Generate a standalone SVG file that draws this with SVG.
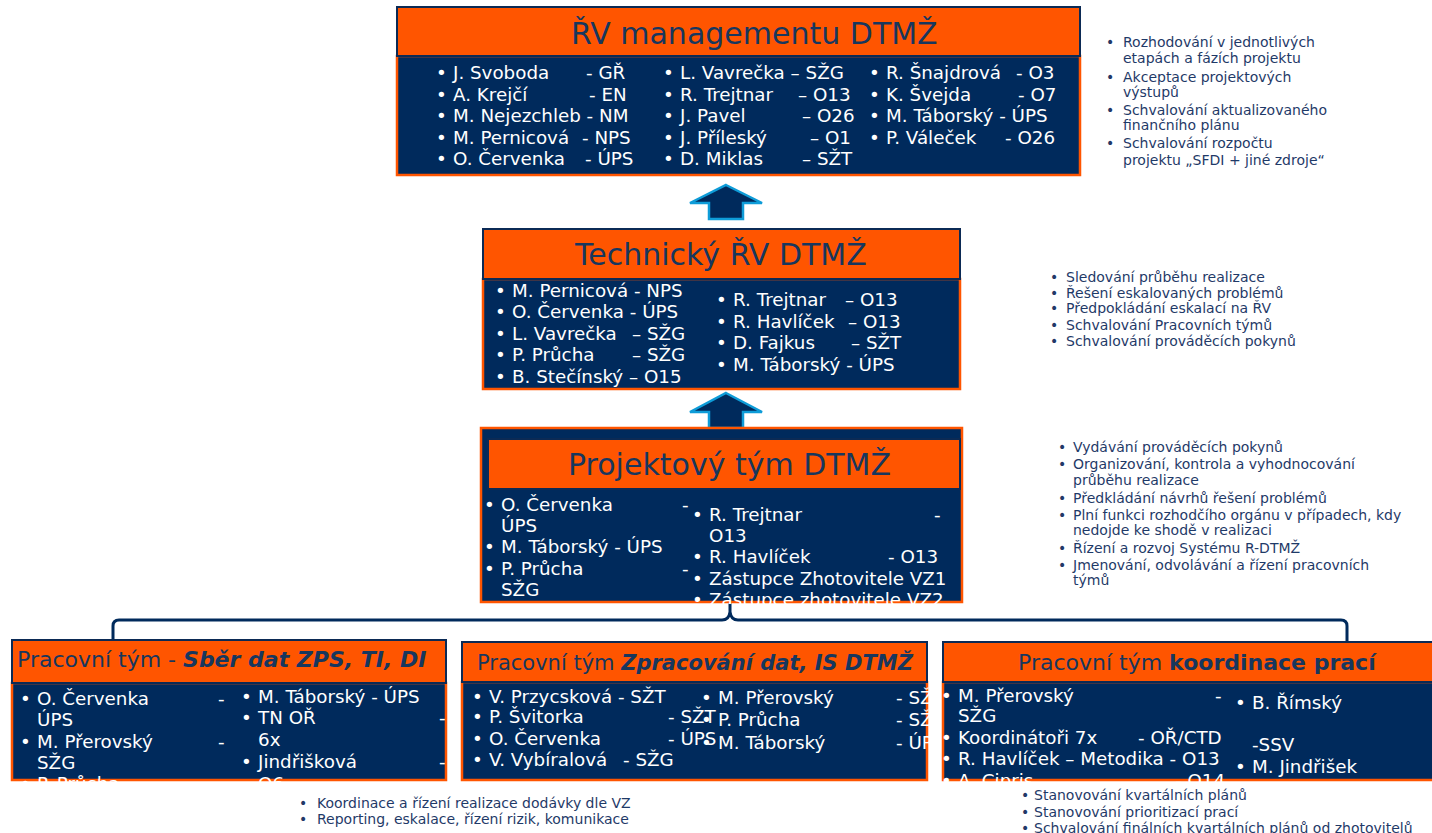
<svg xmlns="http://www.w3.org/2000/svg" width="1432" height="833" viewBox="0 0 1432 833">
<style>
text{font-family:"DejaVu Sans",Verdana,sans-serif}
.hdr{fill:#FF5500;stroke:#0B2A55;stroke-width:2}
.bd{fill:#002A5C;stroke:#FF5500;stroke-width:2.5}
.b{font-size:18.3px;fill:#FFFFFF}
.ttl{font-size:30px;fill:#17375E}
.tt{font-size:22px;fill:#17375E}
.bi{font-weight:bold;font-style:italic}
.bo{font-weight:bold}
.l{font-size:14px;fill:#1F3A68}
.arr{fill:#002A5C;stroke:#0E9CD8;stroke-width:2.5}
.con{fill:none;stroke:#002A5C;stroke-width:3}
</style>
<defs>
<clipPath id="cpP"><rect x="481" y="428" width="482" height="176"/></clipPath>
<clipPath id="cp1"><rect x="12" y="683" width="435" height="100"/></clipPath>
<clipPath id="cp2"><rect x="440" y="682" width="520" height="101"/></clipPath>
<clipPath id="cp3"><rect x="940" y="682" width="492" height="101"/></clipPath>
</defs>
<rect width="1432" height="833" fill="#FFFFFF"/>

<g id="connectors">
<polygon class="arr" points="726,185 762,203 743,203 743,219 709,219 709,203 690,203"/>
<polygon class="arr" points="726,393 762,412 743,412 743,428 709,428 709,412 690,412"/>
<path class="con" d="M113,640 V626 Q113,620 119,620 H722 Q729,620 730,612 V603 M730,612 Q731,620 738,620 H1341 Q1347,620 1347,626 V641"/>
</g>

<g id="rv-management">
<rect class="bd" x="397" y="56" width="683" height="119"/>
<rect class="hdr" x="397" y="7" width="683" height="49"/>
<text class="ttl" x="571" y="44">ŘV managementu DTMŽ</text>
<g class="b">
<text x="436" y="79">•<tspan x="453">J. Svoboda</tspan><tspan x="586">- GŘ</tspan></text>
<text x="436" y="100.5">•<tspan x="453">A. Krejčí</tspan><tspan x="589">- EN</tspan></text>
<text x="436" y="122">•<tspan x="453">M. Nejezchleb - NM</tspan></text>
<text x="436" y="143.5">•<tspan x="453">M. Pernicová</tspan><tspan x="582">- NPS</tspan></text>
<text x="436" y="165">•<tspan x="453">O. Červenka</tspan><tspan x="585">- ÚPS</tspan></text>
<text x="663" y="79">•<tspan x="680">L. Vavrečka – SŽG</tspan></text>
<text x="663" y="100.5">•<tspan x="680">R. Trejtnar</tspan><tspan x="798">– O13</tspan></text>
<text x="663" y="122">•<tspan x="680">J. Pavel</tspan><tspan x="802">– O26</tspan></text>
<text x="663" y="143.5">•<tspan x="680">J. Příleský</tspan><tspan x="810">– O1</tspan></text>
<text x="663" y="165">•<tspan x="680">D. Miklas</tspan><tspan x="802">– SŽT</tspan></text>
<text x="869" y="79">•<tspan x="886">R. Šnajdrová</tspan><tspan x="1016">- O3</tspan></text>
<text x="869" y="100.5">•<tspan x="886">K. Švejda</tspan><tspan x="1018">- O7</tspan></text>
<text x="869" y="122">•<tspan x="886">M. Táborský - ÚPS</tspan></text>
<text x="869" y="143.5">•<tspan x="886">P. Váleček</tspan><tspan x="1005">- O26</tspan></text>
</g>
</g>

<g id="list-rv">
<g class="l">
<text x="1106" y="47">•<tspan x="1123">Rozhodování v jednotlivých</tspan></text>
<text x="1123" y="63">etapách a fázích projektu</text>
<text x="1106" y="82">•<tspan x="1123">Akceptace projektových</tspan></text>
<text x="1123" y="97">výstupů</text>
<text x="1106" y="115">•<tspan x="1123">Schvalování aktualizovaného</tspan></text>
<text x="1123" y="130">finančního plánu</text>
<text x="1106" y="148">•<tspan x="1123">Schvalování rozpočtu</tspan></text>
<text x="1123" y="165">projektu „SFDI + jiné zdroje“</text>
</g>
</g>

<g id="technicky-rv">
<rect class="bd" x="483" y="279" width="477" height="110"/>
<rect class="hdr" x="483" y="229" width="477" height="50"/>
<text class="ttl" x="575" y="265">Technický ŘV DTMŽ</text>
<g class="b">
<text x="495" y="296.5">•<tspan x="512">M. Pernicová - NPS</tspan></text>
<text x="495" y="318">•<tspan x="512">O. Červenka - ÚPS</tspan></text>
<text x="495" y="339.5">•<tspan x="512">L. Vavrečka</tspan><tspan x="632">– SŽG</tspan></text>
<text x="495" y="361">•<tspan x="512">P. Průcha</tspan><tspan x="632">– SŽG</tspan></text>
<text x="495" y="383">•<tspan x="512">B. Stečínský – O15</tspan></text>
<text x="716" y="306">•<tspan x="733">R. Trejtnar</tspan><tspan x="845">– O13</tspan></text>
<text x="716" y="327.5">•<tspan x="733">R. Havlíček</tspan><tspan x="848">– O13</tspan></text>
<text x="716" y="349">•<tspan x="733">D. Fajkus</tspan><tspan x="851">– SŽT</tspan></text>
<text x="716" y="370.5">•<tspan x="733">M. Táborský - ÚPS</tspan></text>
</g>
</g>

<g id="list-technicky">
<g class="l">
<text x="1050" y="282">•<tspan x="1066">Sledování průběhu realizace</tspan></text>
<text x="1050" y="298">•<tspan x="1066">Řešení eskalovaných problémů</tspan></text>
<text x="1050" y="313">•<tspan x="1066">Předpokládání eskalací na ŘV</tspan></text>
<text x="1050" y="330">•<tspan x="1066">Schvalování Pracovních týmů</tspan></text>
<text x="1050" y="346">•<tspan x="1066">Schvalování prováděcích pokynů</tspan></text>
</g>
</g>

<g id="projektovy-tym">
<rect class="bd" x="481" y="428" width="481" height="174"/>
<rect class="hdr" x="488" y="439" width="472" height="50"/>
<text class="ttl" x="568" y="475">Projektový tým DTMŽ</text>
<g class="b" clip-path="url(#cpP)">
<text x="484" y="510.5">•<tspan x="501">O. Červenka</tspan><tspan x="682">-</tspan></text>
<text x="501" y="531.5">ÚPS</text>
<text x="484" y="553">•<tspan x="501">M. Táborský - ÚPS</tspan></text>
<text x="484" y="574.5">•<tspan x="501">P. Průcha</tspan><tspan x="682">-</tspan></text>
<text x="501" y="595.5">SŽG</text>
<text x="692" y="520.5">•<tspan x="709">R. Trejtnar</tspan><tspan x="934">-</tspan></text>
<text x="709" y="541.5">O13</text>
<text x="692" y="563">•<tspan x="709">R. Havlíček</tspan><tspan x="888">- O13</tspan></text>
<text x="692" y="584.5">•<tspan x="709">Zástupce Zhotovitele VZ1</tspan></text>
<text x="692" y="606">•<tspan x="709">Zástupce zhotovitele VZ2</tspan></text>
</g>
</g>

<g id="list-projektovy">
<g class="l">
<text x="1058" y="452">•<tspan x="1073">Vydávání prováděcích pokynů</tspan></text>
<text x="1058" y="469">•<tspan x="1073">Organizování, kontrola a vyhodnocování</tspan></text>
<text x="1073" y="485">průběhu realizace</text>
<text x="1058" y="503">•<tspan x="1073">Předkládání návrhů řešení problémů</tspan></text>
<text x="1058" y="520">•<tspan x="1073">Plní funkci rozhodčího orgánu v případech, kdy</tspan></text>
<text x="1073" y="535">nedojde ke shodě v realizaci</text>
<text x="1058" y="553">•<tspan x="1073">Řízení a rozvoj Systému R-DTMŽ</tspan></text>
<text x="1058" y="570">•<tspan x="1073">Jmenování, odvolávání a řízení pracovních</tspan></text>
<text x="1073" y="585">týmů</text>
</g>
</g>

<g id="tym-sber-dat">
<rect class="bd" x="12" y="683" width="434" height="97"/>
<rect class="hdr" x="12" y="640" width="434" height="43"/>
<text class="tt" x="17" y="667">Pracovní tým - <tspan class="bi">Sběr dat ZPS, TI, DI</tspan></text>
<g class="b" clip-path="url(#cp1)">
<text x="20" y="704.5">•<tspan x="37">O. Červenka</tspan><tspan x="218">-</tspan></text>
<text x="37" y="725.5">ÚPS</text>
<text x="20" y="748">•<tspan x="37">M. Přerovský</tspan><tspan x="218">-</tspan></text>
<text x="37" y="769">SŽG</text>
<text x="20" y="790">•<tspan x="37">P. Průcha</tspan></text>
<text x="241" y="702.5">•<tspan x="258">M. Táborský - ÚPS</tspan></text>
<text x="241" y="724">•<tspan x="258">TN OŘ</tspan><tspan x="439">-</tspan></text>
<text x="258" y="745.5">6x</text>
<text x="241" y="768">•<tspan x="258">Jindřišková</tspan><tspan x="439">-</tspan></text>
<text x="258" y="789.5">O6</text>
</g>
</g>

<g id="tym-zpracovani-dat">
<rect class="bd" x="462" y="682" width="465" height="98"/>
<rect class="hdr" x="462" y="642" width="465" height="40"/>
<text class="tt" x="477" y="670" style="font-size:21px">Pracovní tým <tspan class="bi">Zpracování dat, IS DTMŽ</tspan></text>
<g class="b" clip-path="url(#cp2)">
<text x="472" y="702.5">•<tspan x="489">V. Przycsková - SŽT</tspan></text>
<text x="472" y="723">•<tspan x="489">P. Švitorka</tspan><tspan x="668">- SŽT</tspan></text>
<text x="472" y="744.5">•<tspan x="489">O. Červenka</tspan><tspan x="668">- ÚPS</tspan></text>
<text x="472" y="765.5">•<tspan x="489">V. Vybíralová</tspan><tspan x="623">- SŽG</tspan></text>
<text x="701" y="703.5">•<tspan x="718">M. Přerovský</tspan><tspan x="896">- SŽG</tspan></text>
<text x="701" y="725.5">•<tspan x="718">P. Průcha</tspan><tspan x="896">- SŽG</tspan></text>
<text x="701" y="748.5">•<tspan x="718">M. Táborský</tspan><tspan x="896">- ÚPS</tspan></text>
</g>
</g>

<g id="tym-koordinace">
<rect class="bd" x="943" y="682" width="495" height="98"/>
<rect class="hdr" x="943" y="642" width="495" height="40"/>
<text class="tt" x="1018" y="670">Pracovní tým <tspan class="bo">koordinace prací</tspan></text>
<g class="b" clip-path="url(#cp3)">
<text x="941" y="701.5">•<tspan x="958">M. Přerovský</tspan><tspan x="1215">-</tspan></text>
<text x="958" y="721.5">SŽG</text>
<text x="941" y="743.5">•<tspan x="958">Koordinátoři 7x</tspan><tspan x="1138">- OŘ/CTD</tspan></text>
<text x="941" y="764.5">•<tspan x="958">R. Havlíček – Metodika - O13</tspan></text>
<text x="941" y="786.5">•<tspan x="958">A. Cipris</tspan><tspan x="1175">- O14</tspan></text>
<text x="1235" y="708.5">•<tspan x="1252">B. Římský</tspan></text>
<text x="1252" y="750.5">-SSV</text>
<text x="1235" y="772.5">•<tspan x="1252">M. Jindřišek</tspan></text>
</g>
</g>

<g id="list-zpracovani">
<g class="l">
<text x="299" y="808">•<tspan x="317">Koordinace a řízení realizace dodávky dle VZ</tspan></text>
<text x="299" y="824">•<tspan x="317">Reporting, eskalace, řízení rizik, komunikace</tspan></text>
</g>
</g>

<g id="list-koordinace">
<g class="l">
<text x="1021" y="800">•<tspan x="1034">Stanovování kvartálních plánů</tspan></text>
<text x="1021" y="817">•<tspan x="1034">Stanovování prioritizací prací</tspan></text>
<text x="1021" y="833">•<tspan x="1034">Schvalování finálních kvartálních plánů od zhotovitelů</tspan></text>
</g>
</g>
</svg>
